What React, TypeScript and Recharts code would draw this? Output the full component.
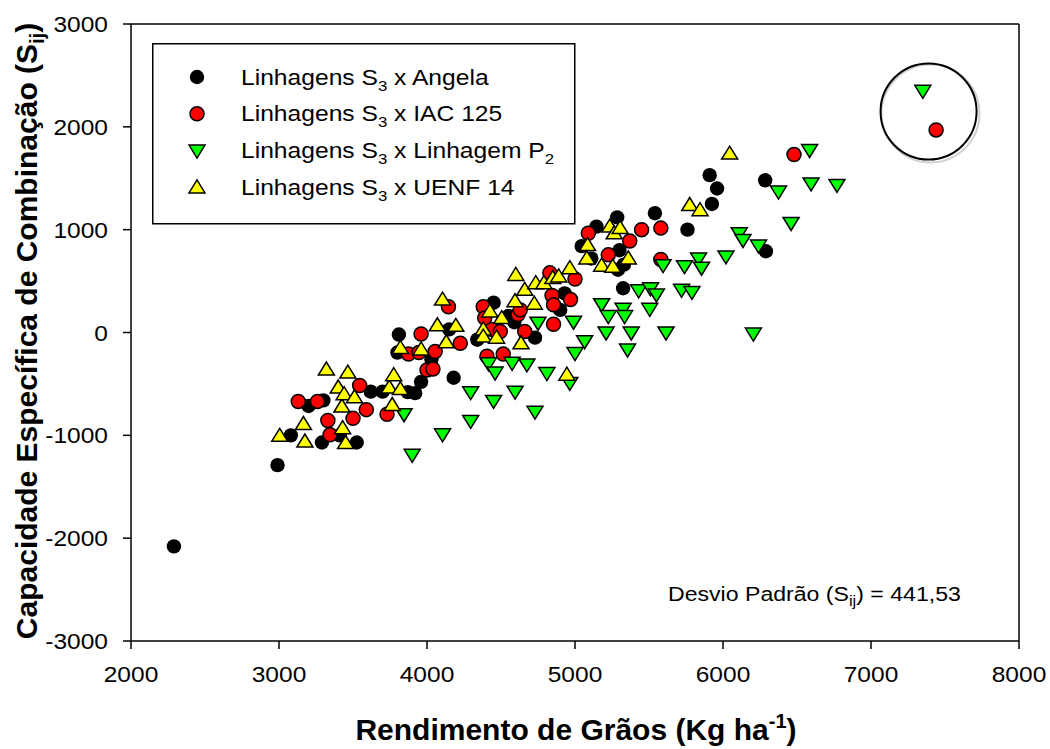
import React from 'react';
import {
    ScatterChart,
    Scatter,
    XAxis,
    YAxis,
    ReferenceLine,
    ReferenceDot,
    Legend,
    Customized
} from 'recharts';

// [Rendimento de Grãos, Sij]
const angela: [number, number][] = [
    [2290, -2080], [2990, -1290], [3080, -1000], [3200, -715], [3290, -1070],
    [3410, -1000], [3525, -1070], [3300, -660], [3620, -575], [3700, -575],
    [3870, -580], [3920, -590], [3960, -480], [4180, -440], [3810, -20],
    [3800, -195], [4030, -260], [4150, 30], [4340, -70], [4450, 290],
    [4550, 160], [4590, 100], [4730, -50], [4900, 220], [4930, 380],
    [5045, 840], [5145, 1030], [5110, 720], [5290, 610], [5300, 800],
    [5330, 660], [5325, 430], [5285, 1120], [5540, 1160], [5760, 1000],
    [5910, 1530], [5960, 1400], [5925, 1250], [6285, 1480], [6290, 790]
];

const iac125: [number, number][] = [
    [3130, -670], [3260, -670], [3330, -855], [3345, -995], [3500, -835],
    [3545, -515], [3590, -750], [3730, -795], [3875, -210], [3945, -195],
    [3960, -15], [4000, -365], [4040, -355], [4055, -185], [4145, 250],
    [4225, -105], [4380, 250], [4390, 140], [4405, -230], [4440, 30],
    [4495, 10], [4515, -210], [4615, 175], [4630, 220], [4660, 10],
    [4830, 580], [4845, 360], [4855, 270], [4855, 80], [4970, 320],
    [5000, 520], [5090, 965], [5225, 755], [5370, 890], [5450, 1000],
    [5580, 1015], [5580, 710], [6480, 1730], [7440, 1970]
];

const linhagemP2: [number, number][] = [
    [3845, -795], [3900, -1190], [4105, -990], [4295, -860], [4295, -580],
    [4415, -300], [4450, -665], [4460, -390], [4575, -295], [4595, -575],
    [4675, -310], [4730, -770], [4750, 95], [4810, -395], [4965, -490],
    [4990, 105], [5000, -200], [5065, -85], [5180, 275], [5210, 0],
    [5225, 160], [5325, 230], [5335, 160], [5355, -165], [5380, 0],
    [5430, 410], [5505, 230], [5510, 430], [5550, 370], [5595, 655],
    [5615, 0], [5720, 415], [5740, 645], [5790, 395], [5835, 720],
    [5855, 630], [6020, 740], [6110, 965], [6135, 900], [6205, -10],
    [6240, 845], [6375, 1370], [6460, 1065], [6585, 1775], [6595, 1450],
    [6770, 1435], [7350, 2350]
];

const uenf14: [number, number][] = [
    [3005, -1005], [3165, -890], [3175, -1060], [3320, -360], [3400, -535],
    [3425, -720], [3430, -930], [3440, -600], [3450, -1075], [3465, -390],
    [3510, -630], [3745, -535], [3765, -705], [3775, -415], [3820, -150],
    [3820, -550], [3960, -165], [4070, 70], [4105, 320], [4130, -95],
    [4195, 65], [4380, 30], [4380, -40], [4425, 205], [4470, -50],
    [4505, 140], [4595, 305], [4600, 560], [4635, -105], [4660, 415],
    [4725, 280], [4735, 480], [4790, 480], [4850, 530], [4890, 545],
    [4945, -410], [4965, 625], [5085, 850], [5080, 720], [5180, 650],
    [5235, 1030], [5255, 640], [5265, 965], [5305, 1015], [5360, 720],
    [5775, 1240], [5845, 1190], [6045, 1740]
];

const xTicks = [2000, 3000, 4000, 5000, 6000, 7000, 8000];
const yTicks = [-3000, -2000, -1000, 0, 1000, 2000, 3000];

const FONT = '"Liberation Sans", Arial, sans-serif';

const toPoints = (rows: [number, number][]) => rows.map(([x, y]) => ({ x, y }));

const blackDot = (p: any) => <circle cx={p.cx} cy={p.cy} r={7.2} fill="#000" />;
const redDot = (p: any) => (
    <circle cx={p.cx} cy={p.cy} r={7} fill="#ff0000" stroke="#000" strokeWidth={1.5} />
);
const downTri = (p: any) => (
    <path
        d={`M${p.cx - 8},${p.cy - 5.5} L${p.cx + 8},${p.cy - 5.5} L${p.cx},${p.cy + 7.5} Z`}
        fill="#00ff00" stroke="#000" strokeWidth={1.5} strokeLinejoin="miter"
    />
);
const upTri = (p: any) => (
    <path
        d={`M${p.cx - 8},${p.cy + 5.5} L${p.cx + 8},${p.cy + 5.5} L${p.cx},${p.cy - 7.5} Z`}
        fill="#ffff00" stroke="#000" strokeWidth={1.5} strokeLinejoin="miter"
    />
);

// the original figure's text is a little wider than Arial, hence the scaleX
const YTick = (p: any) => (
    <g transform={`translate(${p.x},${p.y})`}>
        <text transform="scale(1.09,1)" textAnchor="end" dy="0.36em" fontFamily={FONT} fontSize={22.5} fill="#000">
            {p.payload.value}
        </text>
    </g>
);

const XTick = (p: any) => (
    <g transform={`translate(${p.x},${p.y})`}>
        <text transform="scale(1.09,1)" textAnchor="middle" dy="0.71em" fontFamily={FONT} fontSize={22.5} fill="#000">
            {p.payload.value}
        </text>
    </g>
);

const legendRows = [
    { shape: blackDot, after: ' x Angela', sub2: '' },
    { shape: redDot, after: ' x IAC 125', sub2: '' },
    { shape: downTri, after: ' x Linhagem P', sub2: '2' },
    { shape: upTri, after: ' x UENF 14', sub2: '' }
];

const LegendBox = () => (
    <svg width={424} height={182} style={{ display: 'block' }}>
        <rect x={0.75} y={0.75} width={422} height={180} fill="#fff" stroke="#000" strokeWidth={1.5} />
        {legendRows.map((row, i) => {
            const cy = 34 + i * 36.8;
            return (
                <g key={i}>
                    {row.shape({ cx: 45, cy })}
                    <g transform={`translate(89,${cy + 7.5}) scale(1.12,1)`}>
                        <text x={0} y={0} fontFamily={FONT} fontSize={22} fill="#000">
                            Linhagens S
                            <tspan dy={6} fontSize={15}>3</tspan>
                            <tspan dy={-6}>{row.after}</tspan>
                            {row.sub2 && <tspan dy={6} fontSize={15}>{row.sub2}</tspan>}
                        </text>
                    </g>
                </g>
            );
        })}
    </svg>
);

const YTitle = () => (
    <text
        transform="translate(37,331) rotate(-90)"
        textAnchor="middle"
        fontFamily={FONT}
        fontWeight="bold"
        fontSize={30}
        fill="#000"
    >
        Capacidade Específica de Combinação (S
        <tspan dy={7} fontSize={20}>ij</tspan>
        <tspan dy={-7}>)</tspan>
    </text>
);

const XTitle = () => (
    <text x={576} y={740} textAnchor="middle" fontFamily={FONT} fontWeight="bold" fontSize={30} fill="#000">
        Rendimento de Grãos (Kg ha
        <tspan dy={-12} fontSize={20}>-1</tspan>
        <tspan dy={12}>)</tspan>
    </text>
);

const Note = () => (
    <g transform="translate(668,601) scale(1.1,1)">
        <text x={0} y={0} fontFamily={FONT} fontSize={21} fill="#000">
            Desvio Padrão (S
            <tspan dy={5} fontSize={15}>ij</tspan>
            <tspan dy={-5}>) = 441,53</tspan>
        </text>
    </g>
);

export default function App() {
    return (
        <div style={{ position: 'absolute', left: 0, top: 0, background: '#fff' }}>
            <ScatterChart
                width={1050}
                height={749}
                margin={{ top: 24, right: 31, bottom: 0, left: 0 }}
            >
                <XAxis
                    type="number"
                    dataKey="x"
                    domain={[2000, 8000]}
                    ticks={xTicks}
                    height={108}
                    tickSize={8}
                    tickMargin={17}
                    tick={<XTick />}
                    axisLine={{ stroke: '#000', strokeWidth: 1.5 }}
                    tickLine={{ stroke: '#000', strokeWidth: 1.5 }}
                    label={{ content: () => <XTitle /> }}
                />
                <YAxis
                    type="number"
                    dataKey="y"
                    domain={[-3000, 3000]}
                    ticks={yTicks}
                    width={131}
                    tickSize={8}
                    tickMargin={15}
                    tick={<YTick />}
                    axisLine={{ stroke: '#000', strokeWidth: 1.5 }}
                    tickLine={{ stroke: '#000', strokeWidth: 1.5 }}
                    label={{ content: () => <YTitle /> }}
                />
                <ReferenceLine y={3000} stroke="#000" strokeWidth={1.5} />
                <ReferenceLine x={8000} stroke="#000" strokeWidth={1.5} />
                <ReferenceDot x={7402} y={2130} r={49} fill="none" stroke="#d0d0d0" strokeWidth={2} />
                <ReferenceDot x={7389} y={2149} r={48} fill="none" stroke="#000" strokeWidth={2} />
                <Scatter name="Linhagens S3 x Angela" data={toPoints(angela)} shape={blackDot} isAnimationActive={false} />
                <Scatter name="Linhagens S3 x IAC 125" data={toPoints(iac125)} shape={redDot} isAnimationActive={false} />
                <Scatter name="Linhagens S3 x Linhagem P2" data={toPoints(linhagemP2)} shape={downTri} isAnimationActive={false} />
                <Scatter name="Linhagens S3 x UENF 14" data={toPoints(uenf14)} shape={upTri} isAnimationActive={false} />
                <Legend
                    layout="horizontal"
                    verticalAlign="middle"
                    align="center"
                    content={() => <LegendBox />}
                    wrapperStyle={{ left: 152, top: 43, width: 424, height: 182 }}
                />
                <Customized component={() => <Note />} />
            </ScatterChart>
        </div>
    );
}
